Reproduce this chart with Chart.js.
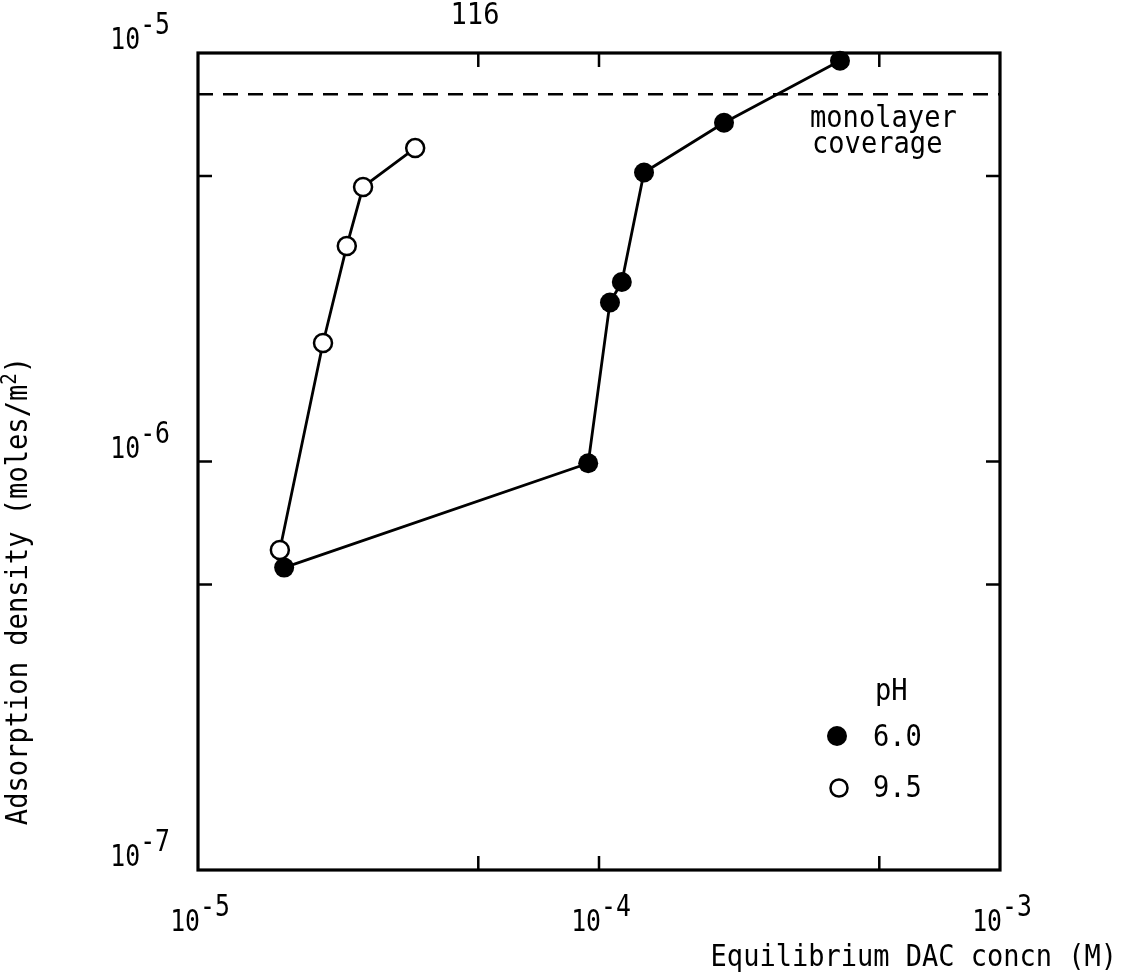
<!DOCTYPE html>
<html>
<head>
<meta charset="utf-8">
<script src="https://cdn.jsdelivr.net/npm/chart.js@4"></script>
<style>
  html, body { margin: 0; padding: 0; background: #fff; }
  #wrap { width: 1127px; height: 976px; }
</style>
</head>
<body>
<div id="wrap"><canvas id="chart" width="1127" height="976"></canvas></div>
<script>
// Equilibrium DAC concentration (M) and adsorption density (moles/m^2)
const concPH60 = [1.64e-5, 9.4e-5, 1.065e-4, 1.14e-4, 1.295e-4, 2.05e-4, 3.99e-4];
const adsPH60  = [5.5e-7, 9.9e-7, 2.45e-6, 2.75e-6, 5.1e-6, 6.75e-6, 9.57e-6];
const concPH95 = [1.6e-5, 2.05e-5, 2.35e-5, 2.58e-5, 3.48e-5];
const adsPH95  = [6.07e-7, 1.95e-6, 3.37e-6, 4.7e-6, 5.85e-6];
const monolayerCoverage = 7.93e-6;

// Axis ranges, labelled decades and inner tick marks
const xRange = [1e-5, 1e-3];
const yRange = [1e-7, 1e-5];
const xLabelExponents = [-5, -4, -3];
const yLabelExponents = [-7, -6, -5];
const xTickMarks = [5e-5, 1e-4, 5e-4];
const yTickMarks = [5e-7, 1e-6, 5e-6];
const legendPH = ['6.0', '9.5'];
const pageNumber = '116';

const MONO = '"DejaVu Sans Mono", monospace';

function toPoints(xs, ys) {
  return xs.map((x, i) => ({ x: x, y: ys[i] }));
}

// Text in a narrowed typewriter face
function measure(ctx, text, size, sx) {
  ctx.save();
  ctx.font = size + 'px ' + MONO;
  const w = ctx.measureText(text).width * sx;
  ctx.restore();
  return w;
}
function condText(ctx, text, x, y, size, sx, align) {
  const w = measure(ctx, text, size, sx);
  let x0 = x;
  if (align === 'center') x0 = x - w / 2;
  else if (align === 'right') x0 = x - w;
  ctx.save();
  ctx.font = size + 'px ' + MONO;
  ctx.fillStyle = '#000';
  ctx.textAlign = 'left';
  ctx.textBaseline = 'alphabetic';
  ctx.translate(x0, y);
  ctx.scale(sx, 1);
  ctx.fillText(text, 0, 0);
  ctx.restore();
  return w;
}
// "10" with a raised exponent
function powerLabel(ctx, exp, x, y, align) {
  const size = 31, sx = 0.8, rise = 15;
  const base = '10', sup = String(exp);
  const wb = measure(ctx, base, size, sx);
  const ws = measure(ctx, sup, size, sx);
  const total = wb + ws;
  let x0 = x;
  if (align === 'center') x0 = x - total / 2;
  else if (align === 'right') x0 = x - total;
  condText(ctx, base, x0, y, size, sx, 'left');
  condText(ctx, sup, x0 + wb, y - rise, size, sx, 'left');
}

const framePlugin = {
  id: 'frameAndLabels',
  afterDraw(chart) {
    const ctx = chart.ctx;
    const xs = chart.scales.x, ys = chart.scales.y;
    const a = chart.chartArea;
    ctx.save();
    ctx.strokeStyle = '#000';
    ctx.lineWidth = 3.2;
    ctx.setLineDash([]);
    ctx.strokeRect(a.left, a.top, a.right - a.left, a.bottom - a.top);

    // inward tick marks on all four sides
    const tl = 14;
    ctx.lineWidth = 2.5;
    ctx.beginPath();
    xTickMarks.forEach(v => {
      const px = xs.getPixelForValue(v);
      ctx.moveTo(px, a.bottom); ctx.lineTo(px, a.bottom - tl);
      ctx.moveTo(px, a.top); ctx.lineTo(px, a.top + tl);
    });
    yTickMarks.forEach(v => {
      const py = ys.getPixelForValue(v);
      ctx.moveTo(a.left, py); ctx.lineTo(a.left + tl, py);
      ctx.moveTo(a.right, py); ctx.lineTo(a.right - tl, py);
    });
    ctx.stroke();
    ctx.restore();

    // decade labels
    xLabelExponents.forEach(e => {
      const px = xs.getPixelForValue(Math.pow(10, e));
      powerLabel(ctx, e, px + 2, 931, 'center');
    });
    yLabelExponents.forEach(e => {
      const py = ys.getPixelForValue(Math.pow(10, e));
      powerLabel(ctx, e, 170, py - 4, 'right');
    });

    // axis titles
    condText(ctx, 'Equilibrium DAC concn (M)', 1117, 966, 30, 0.9, 'right');

    ctx.save();
    ctx.translate(27, 591);
    ctx.rotate(-Math.PI / 2);
    const t1 = 'Adsorption density (moles/m', t2 = '2', t3 = ')';
    const w1 = measure(ctx, t1, 31, 0.874);
    const w2 = measure(ctx, t2, 22, 0.874);
    const w3 = measure(ctx, t3, 31, 0.874);
    let x0 = -(w1 + w2 + w3) / 2;
    condText(ctx, t1, x0, 0, 31, 0.874, 'left');
    condText(ctx, t2, x0 + w1, -11, 22, 0.874, 'left');
    condText(ctx, t3, x0 + w1 + w2, 0, 31, 0.874, 'left');
    ctx.restore();

    // annotation for the dashed line
    condText(ctx, 'monolayer', 810, 127, 31, 0.874, 'left');
    condText(ctx, 'coverage', 812, 153, 31, 0.874, 'left');

    // legend
    condText(ctx, 'pH', 875, 700, 31, 0.874, 'left');
    ctx.save();
    ctx.fillStyle = '#000';
    ctx.beginPath();
    ctx.arc(837, 736, 10, 0, Math.PI * 2);
    ctx.fill();
    ctx.fillStyle = '#fff';
    ctx.strokeStyle = '#000';
    ctx.lineWidth = 2.5;
    ctx.beginPath();
    ctx.arc(839, 788, 8.5, 0, Math.PI * 2);
    ctx.fill();
    ctx.stroke();
    ctx.restore();
    condText(ctx, legendPH[0], 873, 746, 31, 0.874, 'left');
    condText(ctx, legendPH[1], 873, 797, 31, 0.874, 'left');

    // page number at the top
    condText(ctx, pageNumber, 475, 24, 31, 0.874, 'center');
  }
};

const ctx = document.getElementById('chart').getContext('2d');
new Chart(ctx, {
  type: 'scatter',
  data: {
    datasets: [
      {
        label: 'pH 6.0',
        data: toPoints(concPH60, adsPH60),
        showLine: true,
        borderColor: '#000',
        borderWidth: 2.8,
        pointRadius: 10,
        pointBackgroundColor: '#000',
        pointBorderColor: '#000',
        pointBorderWidth: 0,
        order: 0,
        clip: false
      },
      {
        label: 'pH 9.5',
        data: toPoints(concPH95, adsPH95),
        showLine: true,
        borderColor: '#000',
        borderWidth: 2.8,
        pointRadius: 9,
        pointBackgroundColor: '#fff',
        pointBorderColor: '#000',
        pointBorderWidth: 2.5,
        order: 1,
        clip: false
      },
      {
        label: 'monolayer coverage',
        data: [{ x: xRange[0], y: monolayerCoverage }, { x: xRange[1], y: monolayerCoverage }],
        showLine: true,
        borderColor: '#000',
        borderWidth: 2.5,
        borderDash: [15, 10],
        pointRadius: 0,
        order: 2
      }
    ]
  },
  options: {
    responsive: false,
    animation: false,
    devicePixelRatio: 1,
    events: [],
    layout: { padding: { left: 198, right: 127, top: 53, bottom: 106 } },
    plugins: { legend: { display: false }, tooltip: { enabled: false }, title: { display: false } },
    scales: {
      x: { type: 'logarithmic', min: xRange[0], max: xRange[1], display: false },
      y: { type: 'logarithmic', min: yRange[0], max: yRange[1], display: false }
    }
  },
  plugins: [framePlugin]
});
</script>
</body>
</html>
